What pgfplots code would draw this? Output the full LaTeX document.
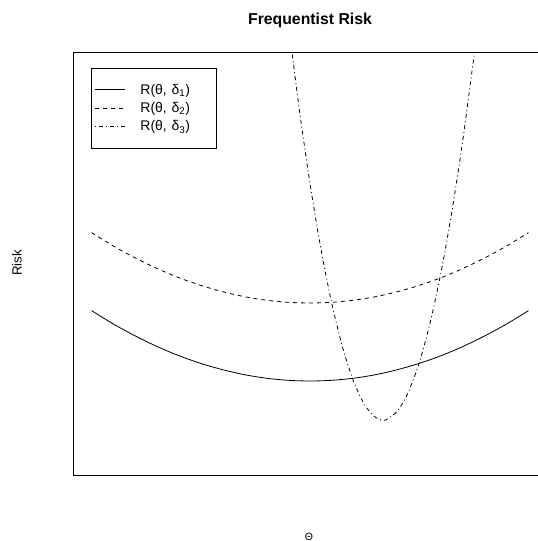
\documentclass[border=0pt]{standalone}
\usepackage{fontspec}
\setmainfont{Liberation Sans}
\usepackage{pgfplots}
\pgfplotsset{compat=1.18}

\pgfplotstableread{
theta risk
-2.0 230.4
-1.8 217.0
-1.6 205.1
-1.4 194.5
-1.2 185.3
-1.0 177.6
-0.8 171.3
-0.6 166.3
-0.4 162.8
-0.2 160.7
0.0 160.0
0.2 160.7
0.4 162.8
0.6 166.3
0.8 171.3
1.0 177.6
1.2 185.3
1.4 194.5
1.6 205.1
1.8 217.0
2.0 230.4
}\riskone

\pgfplotstableread{
theta risk
-2.0 308.4
-1.8 295.0
-1.6 283.1
-1.4 272.5
-1.2 263.3
-1.0 255.6
-0.8 249.3
-0.6 244.3
-0.4 240.8
-0.2 238.7
0.0 238.0
0.2 238.7
0.4 240.8
0.6 244.3
0.8 249.3
1.0 255.6
1.2 263.3
1.4 272.5
1.6 283.1
1.8 295.0
2.0 308.4
}\risktwo

\pgfplotstableread{
theta risk
-0.25 567.1
-0.2 519.9
-0.1 433.5
0.0 357.6
0.1 292.2
0.2 237.4
0.3 193.1
0.4 159.4
0.5 136.2
0.6 123.6
0.67 121.0
0.7 121.5
0.8 129.9
0.9 148.9
1.0 178.4
1.1 218.4
1.2 269.0
1.3 330.2
1.4 401.8
1.5 484.1
1.55 529.1
1.6 576.8
}\riskthree

\begin{document}
\begin{tikzpicture}
\useasboundingbox (0pt,0pt) rectangle (538pt,541pt);
\begin{axis}[
  at={(73.7pt,65.5pt)}, anchor=south west,
  scale only axis, width=472.8pt, height=422.8pt,
  xmin=-2.163, xmax=2.165, ymin=65.5, ymax=488.3,
  xtick=\empty, ytick=\empty,
  axis line style={line width=0.8pt},
  legend style={
    at={(0.0366,0.9645)}, anchor=north west,
    draw=black, line width=0.8pt,
    inner xsep=0pt, inner ysep=12.5pt,
    column sep=0pt, row sep=0pt,
    font=\fontsize{14}{16.8}\selectfont,
    nodes={inner sep=0pt, text width=76pt, align=left},
  },
  legend cell align=left,
  legend image code/.code={
    \draw[#1] (4pt,0pt) -- (34pt,0pt);
    \path[draw=none, fill=none] (0pt,-9.2pt) rectangle (49pt,9.2pt);
  },
]
\addplot[black, line width=0.8pt, smooth] table[x=theta, y=risk] {\riskone};
\addlegendentry{R(θ, δ\textsubscript{1})}
\addplot[black, line width=0.8pt, smooth, dash pattern=on 4pt off 4pt] table[x=theta, y=risk] {\risktwo};
\addlegendentry{R(θ, δ\textsubscript{2})}
\addplot[black, line width=0.8pt, smooth, dash pattern=on 1pt off 3pt on 4pt off 3pt] table[x=theta, y=risk] {\riskthree};
\addlegendentry{R(θ, δ\textsubscript{3})}
\end{axis}
\node[anchor=base, font=\fontsize{15.8}{19}\selectfont\bfseries] at (310pt,516pt) {Frequentist Risk};
\node[anchor=base, rotate=90, font=\fontsize{13.2}{15.84}\selectfont] at (21.7pt,278pt) {Risk};
\node[anchor=base, font=\fontsize{10.5}{12}\selectfont] at (309pt,1pt) {Θ};
\end{tikzpicture}
\end{document}
